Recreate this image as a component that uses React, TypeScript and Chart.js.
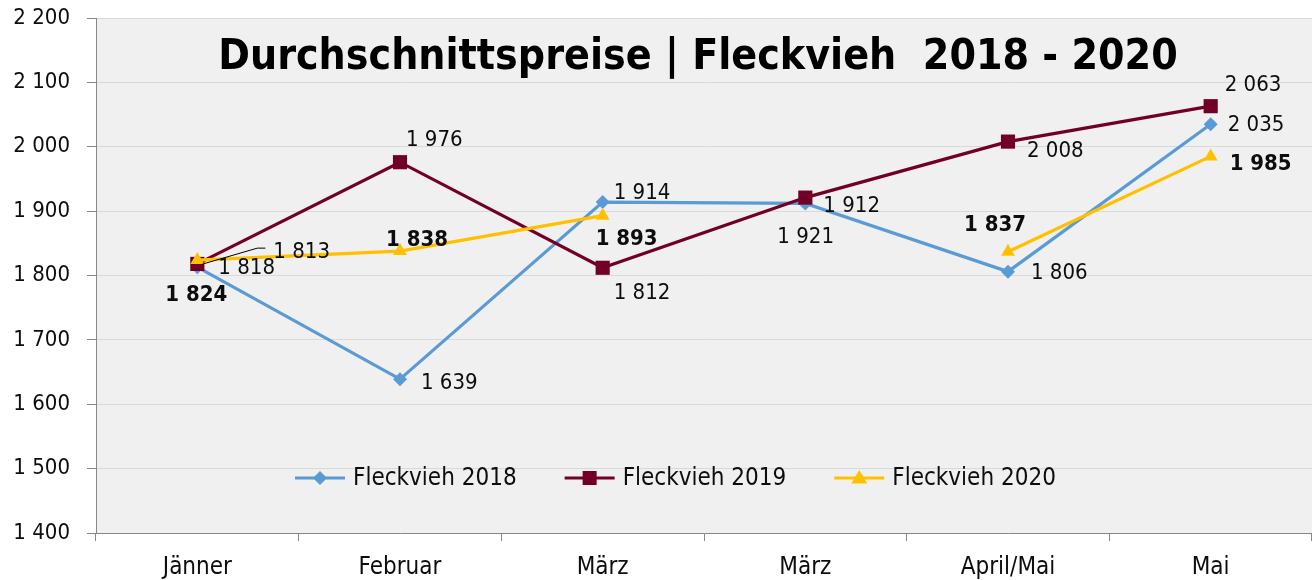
import React, { useEffect, useRef } from "react";
import { Chart, registerables } from "chart.js";

Chart.register(...registerables);

const categories = ["Jänner", "Februar", "März", "März", "April/Mai", "Mai"];
const fleckvieh2018 = [1813, 1639, 1914, 1912, 1806, 2035];
const fleckvieh2019 = [1818, 1976, 1812, 1921, 2008, 2063];
const fleckvieh2020 = [1824, 1838, 1893, null, 1837, 1985];
const yMin = 1400;
const yMax = 2200;
const yStep = 100;
const seriesNames = ["Fleckvieh 2018", "Fleckvieh 2019", "Fleckvieh 2020"];
const TITLE = "Durchschnittspreise | Fleckvieh  2018 - 2020";

// label placement (dx to left edge, dy to vertical middle), relative to the point
const labelPos2018 = [[76, -15], [21, 4], [11, -9], [18, 3], [23, 2], [17, 1]];
const labelPos2019 = [[21, 4], [6, -22], [11, 26], [-28, 40], [19, 10], [14, -21]];
const labelPos2020 = [[-32, 35], [-14, -11], [-7, 24], null, [-44, -26], [19, 8]];

const FONT = "'DejaVu Sans Condensed', 'DejaVu Sans', sans-serif";
const BLUE = "#5b9bd5";
const MAROON = "#720026";
const GOLD = "#ffc000";

const fmt = (v: number) => String(v).replace(/\B(?=(\d{3})+(?!\d))/g, " ");

function drawMarker(ctx: CanvasRenderingContext2D, style: string, x: number, y: number, color: string) {
  ctx.save();
  ctx.fillStyle = color;
  ctx.beginPath();
  if (style === "rectRot") {
    const r = 7;
    ctx.moveTo(x, y - r);
    ctx.lineTo(x + r, y);
    ctx.lineTo(x, y + r);
    ctx.lineTo(x - r, y);
  } else if (style === "rect") {
    const r = 7;
    ctx.rect(x - r, y - r, 2 * r, 2 * r);
  } else {
    const r = 8;
    ctx.moveTo(x, y - r);
    ctx.lineTo(x + r, y + r * 0.7);
    ctx.lineTo(x - r, y + r * 0.7);
  }
  ctx.closePath();
  ctx.fill();
  ctx.restore();
}

const bgPlugin = {
  id: "bgPlugin",
  beforeDraw(chart: any) {
    const { ctx, chartArea } = chart;
    ctx.save();
    ctx.fillStyle = "#f0f0f0";
    ctx.fillRect(chartArea.left, chartArea.top, chartArea.right - chartArea.left, chartArea.bottom - chartArea.top);
    ctx.restore();
  },
};

const titlePlugin = {
  id: "titlePlugin",
  beforeDatasetsDraw(chart: any) {
    const { ctx, chartArea } = chart;
    ctx.save();
    let size = 45;
    ctx.font = `bold ${size}px ${FONT}`;
    const w = ctx.measureText(TITLE).width;
    size = size * 960 / w;
    if (size > 48) size = 48;
    ctx.font = `bold ${size}px ${FONT}`;
    ctx.fillStyle = "#000";
    ctx.textAlign = "center";
    ctx.textBaseline = "alphabetic";
    ctx.fillText(TITLE, (chartArea.left + chartArea.right) / 2 - 6, chartArea.top + 51);
    ctx.restore();
  },
};

const labelsPlugin = {
  id: "labelsPlugin",
  afterDatasetsDraw(chart: any) {
    const { ctx } = chart;
    const positions = [labelPos2018, labelPos2019, labelPos2020];
    ctx.save();
    ctx.fillStyle = "#0d0d0d";
    ctx.textAlign = "left";
    ctx.textBaseline = "middle";
    chart.data.datasets.forEach((ds: any, di: number) => {
      const meta = chart.getDatasetMeta(di);
      ctx.font = `${di === 2 ? "bold " : ""}22px ${FONT}`;
      ds.data.forEach((v: number | null, i: number) => {
        const pos = positions[di][i];
        if (v == null || !pos) return;
        const el = meta.data[i];
        const x = el.x;
        const y = el.y;
        ctx.fillText(fmt(v), x + pos[0], y + pos[1]);
        if (di === 0 && i === 0) {
          ctx.save();
          ctx.strokeStyle = "#000";
          ctx.lineWidth = 1;
          ctx.beginPath();
          ctx.moveTo(x + 5, y - 3);
          ctx.lineTo(x + 60, y - 19);
          ctx.lineTo(x + 68, y - 19);
          ctx.stroke();
          ctx.restore();
        }
      });
    });
    ctx.restore();
  },
};

const legendPlugin = {
  id: "legendPlugin",
  afterDatasetsDraw(chart: any) {
    const { ctx, chartArea } = chart;
    const y = chartArea.bottom - 55;
    let x = chartArea.left + 199;
    ctx.save();
    ctx.font = `24px ${FONT}`;
    ctx.textBaseline = "middle";
    ctx.textAlign = "left";
    chart.data.datasets.forEach((ds: any) => {
      ctx.strokeStyle = ds.borderColor;
      ctx.lineWidth = 3;
      ctx.beginPath();
      ctx.moveTo(x, y);
      ctx.lineTo(x + 50, y);
      ctx.stroke();
      drawMarker(ctx, ds.pointStyle, x + 25, y, ds.borderColor);
      ctx.fillStyle = "#0d0d0d";
      ctx.fillText(ds.label, x + 58, y + 1);
      const w = ctx.measureText(ds.label).width;
      x = x + 58 + w + 48;
    });
    ctx.restore();
  },
};

export default function App() {
  const canvasRef = useRef<HTMLCanvasElement | null>(null);

  useEffect(() => {
    document.body.style.margin = "0";
    const canvas = canvasRef.current;
    if (!canvas) return;
    Chart.defaults.font.family = FONT;
    const chart = new Chart(canvas, {
      type: "line",
      data: {
        labels: categories,
        datasets: [
          {
            label: seriesNames[0],
            data: fleckvieh2018,
            borderColor: BLUE,
            backgroundColor: BLUE,
            pointStyle: "rectRot",
            pointRadius: 7,
            pointBorderWidth: 0,
            borderWidth: 3.2,
            order: 3,
          },
          {
            label: seriesNames[1],
            data: fleckvieh2019,
            borderColor: MAROON,
            backgroundColor: MAROON,
            pointStyle: "rect",
            pointRadius: 10,
            pointBorderWidth: 0,
            borderWidth: 3.2,
            order: 2,
          },
          {
            label: seriesNames[2],
            data: fleckvieh2020,
            borderColor: GOLD,
            backgroundColor: GOLD,
            pointStyle: "triangle",
            pointRadius: 8,
            pointBorderWidth: 0,
            borderWidth: 3.2,
            spanGaps: false,
            order: 1,
          },
        ],
      },
      options: {
        animation: false,
        responsive: false,
        maintainAspectRatio: false,
        layout: { autoPadding: false, padding: { top: 18, right: 0, left: 0, bottom: 0 } },
        plugins: {
          legend: { display: false },
          title: { display: false },
          tooltip: { enabled: false },
        },
        scales: {
          x: {
            type: "category",
            offset: true,
            grid: {
              offset: true,
              drawOnChartArea: false,
              tickLength: 8,
              tickColor: "#888",
              lineWidth: 1,
            },
            border: { color: "#888", width: 1 },
            ticks: {
              color: "#0d0d0d",
              font: { size: 24, family: FONT },
              padding: 12,
              maxRotation: 0,
              autoSkip: false,
            },
            afterFit: (s: any) => {
              s.height = 47;
              s.paddingLeft = 0;
              s.paddingRight = 0;
            },
          },
          y: {
            min: yMin,
            max: yMax,
            ticks: {
              stepSize: yStep,
              color: "#0d0d0d",
              font: { size: 22, family: FONT },
              padding: 17,
              callback: (v: any) => fmt(Number(v)),
            },
            grid: { color: "#d9d9d9", tickLength: 9, tickColor: "#888", lineWidth: 1 },
            border: { color: "#888", width: 1 },
            afterFit: (s: any) => {
              s.width = 96;
              s.paddingTop = 0;
              s.paddingBottom = 0;
            },
          },
        },
      },
      plugins: [bgPlugin, titlePlugin, labelsPlugin, legendPlugin],
    } as any);
    return () => chart.destroy();
  }, []);

  return (
    <div style={{ width: 1312, height: 580, position: "relative" }}>
      <canvas ref={canvasRef} width={1312} height={580} style={{ width: 1312, height: 580, display: "block" }} />
    </div>
  );
}
